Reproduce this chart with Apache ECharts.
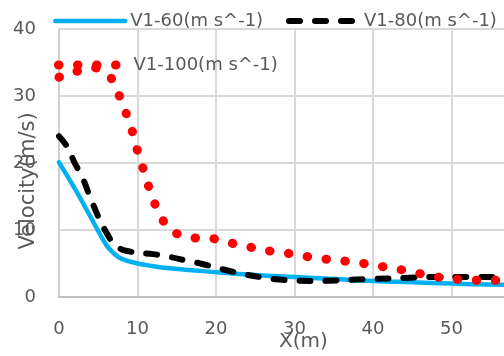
<!DOCTYPE html>
<html>
<head>
<meta charset="utf-8">
<style>
  html, body { margin: 0; padding: 0; background: #fff; }
  .diagram { width: 504px; height: 356px; }
</style>
</head>
<body>
<div class="diagram"></div>
<script src="https://cdn.jsdelivr.net/npm/echarts@6/dist/echarts.min.js"></script>
<script>
var names = ['V1-60(m s^-1)', 'V1-80(m s^-1)', 'V1-100(m s^-1)'];

// [X (m), velocity (m/s)]
var v60 = [
  [0, 20.1], [2, 16.2], [4, 12.0], [6, 7.8], [7, 6.5], [8, 5.7], [10, 5.0],
  [12, 4.6], [14, 4.3], [18, 3.9], [20, 3.7], [25, 3.3], [30, 3.0], [35, 2.7],
  [40, 2.4], [45, 2.2], [50, 2.0], [55, 1.85], [60, 1.75]
];
var v80 = [
  [0, 24.0], [1, 22.5], [2, 20.0], [3, 17.8], [4, 14.8], [5, 12.0], [6, 9.7],
  [7, 7.9], [8, 7.1], [9, 6.8], [10, 6.6], [12, 6.4], [14, 6.0], [16, 5.5],
  [18, 5.0], [20, 4.4], [22, 3.8], [24, 3.3], [26, 2.9], [28, 2.6], [30, 2.45],
  [33, 2.4], [36, 2.5], [40, 2.7], [44, 2.85], [48, 3.0], [52, 3.0], [56, 3.0], [60, 3.0]
];
var v100 = [
  [0, 32.8], [2.3, 33.7], [4.7, 34.2], [6.6, 32.8], [7.6, 30.3], [8.5, 27.6],
  [9.3, 24.9], [9.9, 22.2], [10.6, 19.6], [11.3, 16.9], [12.1, 14.2], [13.1, 11.6],
  [14.6, 9.6], [16.9, 8.8], [19.4, 8.8], [21.7, 8.1], [24.1, 7.5], [26.5, 6.9],
  [28.8, 6.6], [31.2, 6.1], [33.6, 5.7], [36.1, 5.4], [38.3, 5.1], [40.8, 4.6],
  [43.1, 4.2], [45.5, 3.6], [47.9, 3.0], [50.2, 2.7], [52.7, 2.5], [55.2, 2.5], [60, 2.4]
];

var xMin = 0, xMax = 60, xStep = 10;
var yMin = 0, yMax = 40, yStep = 10;
var xName = 'X(m)', yName = 'Velocity(m/s)';

var font = 'DejaVu Sans',
    gray = '#595959';

var styles = [
  { color: '#00B0F0', width: 4.5, type: 'solid', cap: 'round' },
  { color: '#000', width: 6, type: [11, 15], cap: 'round' },
  { color: '#FF0000', width: 9, type: [0.5, 18.5], cap: 'round' }
];

var chart = echarts.init(document.querySelector('.diagram'));

function legendAt(i, left, top) {
  return {
    data: [names[i]],
    left: left,
    top: top,
    padding: 0,
    itemWidth: 70,
    itemHeight: 12,
    itemStyle: { opacity: 0 },
    lineStyle: styles[i],
    textStyle: { fontFamily: font, fontSize: 18, color: gray }
  };
}

function lineSeries(i, data, smooth) {
  return {
    name: names[i],
    type: 'line',
    smooth: smooth,
    symbol: 'none',
    data: data,
    lineStyle: styles[i],
    itemStyle: { color: styles[i].color }
  };
}

var option = {
  animation: false,
  legend: [
    legendAt(0, 53, 12),
    legendAt(1, 286, 12),
    legendAt(2, 54, 56)
  ],
  grid: { left: 59, right: -26, top: 29, bottom: 59, outerBoundsMode: 'none', containLabel: false },
  xAxis: {
    type: 'value',
    min: xMin, max: xMax, interval: xStep,
    name: xName,
    nameLocation: 'middle',
    nameGap: 35,
    nameMoveOverlap: false,
    nameTextStyle: { fontFamily: font, fontSize: 20, color: gray, padding: [0, 0, 0, 18] },
    axisLine: { lineStyle: { color: '#BFBFBF', width: 2 } },
    axisTick: { show: false },
    axisLabel: { fontFamily: font, fontSize: 18, color: gray, margin: 23 },
    splitLine: { lineStyle: { color: '#D9D9D9', width: 2 } }
  },
  yAxis: {
    type: 'value',
    min: yMin, max: yMax, interval: yStep,
    name: yName,
    nameLocation: 'middle',
    nameGap: 20,
    nameMoveOverlap: false,
    nameTextStyle: { fontFamily: font, fontSize: 21, color: gray, padding: [0, 36, 0, 0] },
    axisLine: { show: true, lineStyle: { color: '#D0D0D0', width: 2 } },
    axisTick: { show: false },
    axisLabel: { fontFamily: font, fontSize: 18, color: gray, margin: 23 },
    splitLine: { lineStyle: { color: '#D9D9D9', width: 2 } }
  },
  series: [
    lineSeries(0, v60, 0.4),
    lineSeries(1, v80, 0.4),
    lineSeries(2, v100, false)
  ]
};

chart.setOption(option, true);
</script>
</body>
</html>
